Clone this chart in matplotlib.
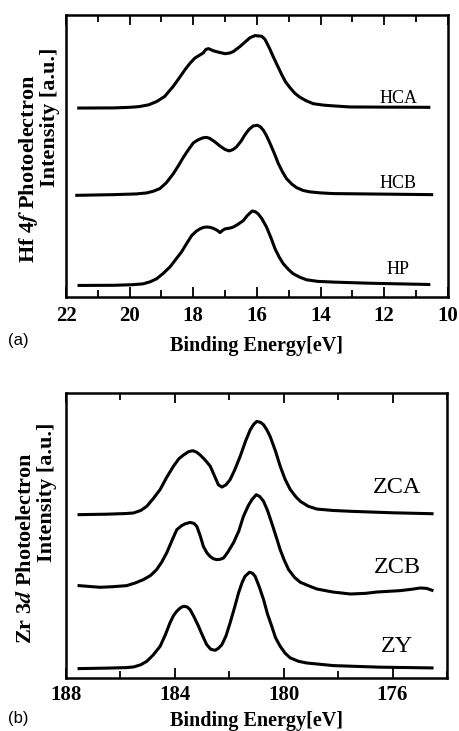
import matplotlib.pyplot as plt
from matplotlib.ticker import MultipleLocator

plt.rcParams['font.family'] = ['Liberation Serif', 'DejaVu Serif']
plt.rcParams['mathtext.fontset'] = 'stix'

# Hf 4f spectra (binding energy [eV], normalised intensity)
hca_e = [21.6, 20.5, 20.0, 19.7, 19.4, 19.15, 18.9, 18.63, 18.45, 18.26, 18.1, 17.95, 17.8,
         17.69, 17.6, 17.52, 17.37, 17.2, 17.0, 16.85, 16.74, 16.53, 16.35, 16.22, 16.06,
         15.85, 15.75, 15.6, 15.49, 15.35, 15.22, 15.1, 14.96, 14.8, 14.65, 14.45, 14.23,
         13.9, 13.6, 13.08, 10.6]
hca_i = [0, 0.002, 0.01, 0.02, 0.045, 0.09, 0.16, 0.30, 0.41, 0.53, 0.62, 0.69, 0.73,
         0.76, 0.81, 0.82, 0.79, 0.77, 0.75, 0.76, 0.78, 0.85, 0.92, 0.97, 1.0,
         0.99, 0.95, 0.82, 0.71, 0.58, 0.46, 0.36, 0.28, 0.20, 0.15, 0.10, 0.06,
         0.04, 0.03, 0.015, 0.01]

hcb_e = [21.66, 20.5, 19.8, 19.47, 19.25, 19.05, 18.85, 18.63, 18.45, 18.31, 18.15, 18.0,
         17.85, 17.69, 17.58, 17.48, 17.32, 17.16, 17.0, 16.87, 16.75, 16.64, 16.5, 16.38,
         16.25, 16.12, 15.99, 15.9, 15.8, 15.7, 15.59, 15.45, 15.33, 15.2, 15.07, 14.9,
         14.75, 14.55, 14.34, 14.0, 13.6, 10.51]
hcb_i = [-0.01, 0.0, 0.01, 0.024, 0.05, 0.087, 0.17, 0.30, 0.43, 0.54, 0.65, 0.745,
         0.79, 0.82, 0.825, 0.81, 0.76, 0.70, 0.65, 0.63, 0.65, 0.69, 0.77, 0.86,
         0.94, 0.99, 1.0, 0.98, 0.93, 0.85, 0.74, 0.59, 0.45, 0.33, 0.23, 0.15,
         0.10, 0.06, 0.04, 0.025, 0.015, 0.0]

hp_e = [21.59, 20.5, 19.9, 19.57, 19.35, 19.15, 18.95, 18.73, 18.55, 18.37, 18.2, 18.05,
        17.9, 17.79, 17.68, 17.58, 17.47, 17.37, 17.25, 17.16, 17.08, 17.0, 16.85, 16.74,
        16.6, 16.43, 16.3, 16.15, 16.05, 15.96, 15.85, 15.7, 15.55, 15.43, 15.3, 15.17,
        15.0, 14.86, 14.65, 14.44, 14.1, 13.6, 12.5, 10.6]
hp_i = [0, 0.002, 0.01, 0.022, 0.05, 0.09, 0.16, 0.25, 0.35, 0.45, 0.57, 0.67,
        0.73, 0.76, 0.78, 0.785, 0.78, 0.767, 0.74, 0.71, 0.74, 0.76, 0.77, 0.785,
        0.82, 0.87, 0.94, 1.0, 0.99, 0.96, 0.90, 0.785, 0.63, 0.49, 0.38, 0.29,
        0.21, 0.157, 0.11, 0.076, 0.055, 0.045, 0.03, 0.013]

# Zr 3d spectra
zca_e = [187.52, 186.5, 185.8, 185.52, 185.25, 185.03, 184.8, 184.54, 184.3, 184.05,
         183.85, 183.68, 183.5, 183.34, 183.2, 183.07, 182.9, 182.70, 182.55, 182.40,
         182.27, 182.12, 181.97, 181.8, 181.6, 181.4, 181.23, 181.1, 180.99, 180.85,
         180.74, 180.62, 180.5, 180.3, 180.13, 179.95, 179.76, 179.55, 179.39, 179.1,
         178.78, 178.2, 177.55, 176.0, 174.55]
zca_i = [0, 0.005, 0.012, 0.018, 0.045, 0.09, 0.17, 0.27, 0.40, 0.52,
         0.60, 0.64, 0.675, 0.686, 0.67, 0.64, 0.59, 0.52, 0.42, 0.32,
         0.296, 0.32, 0.375, 0.48, 0.625, 0.79, 0.91, 0.97, 1.0, 0.99,
         0.964, 0.91, 0.84, 0.68, 0.52, 0.38, 0.27, 0.19, 0.143, 0.09,
         0.06, 0.045, 0.036, 0.02, 0.01]

zcb_e = [187.52, 187.1, 186.75, 186.3, 185.77, 185.45, 185.16, 184.9, 184.67, 184.48,
         184.3, 184.1, 183.93, 183.75, 183.62, 183.44, 183.3, 183.19, 183.07, 182.95,
         182.82, 182.70, 182.58, 182.46, 182.33, 182.21, 182.05, 181.85, 181.65, 181.48,
         181.3, 181.17, 181.01, 180.88, 180.74, 180.6, 180.44, 180.28, 180.13, 179.98,
         179.82, 179.6, 179.39, 179.1, 178.78, 178.2, 177.55, 177.0, 176.57, 175.72,
         175.3, 174.98, 174.75, 174.55]
zcb_i = [0, -0.01, -0.018, -0.012, 0, 0.03, 0.066, 0.11, 0.176, 0.26,
         0.36, 0.50, 0.615, 0.66, 0.68, 0.695, 0.685, 0.65, 0.55, 0.43,
         0.36, 0.32, 0.295, 0.286, 0.29, 0.304, 0.37, 0.469, 0.60, 0.762,
         0.88, 0.945, 1.0, 0.98, 0.927, 0.83, 0.689, 0.54, 0.396, 0.28,
         0.176, 0.09, 0.037, 0.0, -0.037, -0.07, -0.092, -0.085, -0.07, -0.055,
         -0.04, -0.026, -0.03, -0.051]

zy_e = [187.52, 186.5, 185.8, 185.52, 185.25, 185.03, 184.8, 184.54, 184.35, 184.18,
        184.05, 183.93, 183.8, 183.68, 183.55, 183.44, 183.3, 183.13, 182.98, 182.83,
        182.68, 182.52, 182.4, 182.27, 182.12, 181.97, 181.8, 181.66, 181.52, 181.42,
        181.26, 181.15, 181.05, 180.9, 180.74, 180.6, 180.44, 180.3, 180.13, 179.95,
        179.76, 179.45, 179.15, 178.17, 176.5, 174.55]
zy_i = [0, 0.005, 0.01, 0.017, 0.04, 0.076, 0.14, 0.232, 0.35, 0.474,
        0.55, 0.595, 0.63, 0.647, 0.64, 0.612, 0.54, 0.439, 0.34, 0.249,
        0.20, 0.19, 0.21, 0.249, 0.34, 0.474, 0.64, 0.785, 0.90, 0.958,
        1.0, 0.99, 0.958, 0.85, 0.716, 0.57, 0.44, 0.32, 0.232, 0.16,
        0.111, 0.075, 0.058, 0.031, 0.015, 0.007]

# (label, energies, intensities, offset, scale, label y)
hf = [("HCA", hca_e, hca_i, 0.67, 0.257, 0.705),
      ("HCB", hcb_e, hcb_i, 0.363, 0.246, 0.404),
      ("HP", hp_e, hp_i, 0.041, 0.264, 0.096)]
zr = [("ZCA", zca_e, zca_i, 0.573, 0.327, 0.667),
      ("ZCB", zcb_e, zcb_i, 0.324, 0.319, 0.386),
      ("ZY", zy_e, zy_i, 0.033, 0.338, 0.109)]

W, H = 459, 731
fig = plt.figure(figsize=(W / 100, H / 100), dpi=100)
ax1 = fig.add_axes([0.1438, 0.5937, 0.832, 0.3858])
ax2 = fig.add_axes([0.1438, 0.0725, 0.830, 0.390])


def style(ax, xlim, major, minor, pad, labelpad):
    ax.set_xlim(*xlim)
    ax.set_ylim(0, 1)
    ax.xaxis.set_major_locator(MultipleLocator(major))
    ax.xaxis.set_minor_locator(MultipleLocator(minor))
    ax.tick_params(axis='x', which='both', direction='in', top=True, bottom=True,
                   width=1.3, labelsize=15, pad=pad)
    ax.tick_params(axis='x', which='major', length=7)
    ax.tick_params(axis='x', which='minor', length=5)
    ax.set_yticks([])
    for lbl in ax.get_xticklabels():
        lbl.set_fontweight('bold')
    for sp in ax.spines.values():
        sp.set_linewidth(1.8)
    ax.set_xlabel("Binding Energy[eV]", fontsize=14.5, fontweight='bold', labelpad=labelpad)


for name, e, i, off, sc, ly in hf:
    ax1.plot(e, [off + sc * v for v in i], color='black', lw=2.2, solid_joinstyle='round')
    ax1.text(0.87, ly, name, transform=ax1.transAxes, ha='center', va='center', fontsize=13)
for name, e, i, off, sc, ly in zr:
    ax2.plot(e, [off + sc * v for v in i], color='black', lw=2.2, solid_joinstyle='round')
    ax2.text(0.87, ly, name, transform=ax2.transAxes, ha='center', va='center', fontsize=17.5)

style(ax1, (22, 10), 2, 1, 6.5, 7.5)
style(ax2, (188, 174), 4, 2, 5, 4)

# y labels: two lines, offset from each other as in the original
ylab = dict(rotation=90, ha='center', va='center', fontsize=16, fontweight='bold')
fig.text(29 / W, 1 - 169 / H, "Hf 4$\\mathbfit{f}$ Photoelectron", **ylab)
fig.text(50 / W, 1 - 117 / H, "Intensity [a.u.]", **ylab)
fig.text(26 / W, 1 - 548 / H, "Zr 3$\\mathbfit{d}$ Photoelectron", **ylab)
fig.text(47 / W, 1 - 492 / H, "Intensity [a.u.]", **ylab)

fig.text(8 / W, 1 - 341 / H, "(a)", family='Liberation Sans', fontsize=12, va='center')
fig.text(8 / W, 1 - 719 / H, "(b)", family='Liberation Sans', fontsize=12, va='center')

fig.savefig("out.png", dpi=100, facecolor='white')
